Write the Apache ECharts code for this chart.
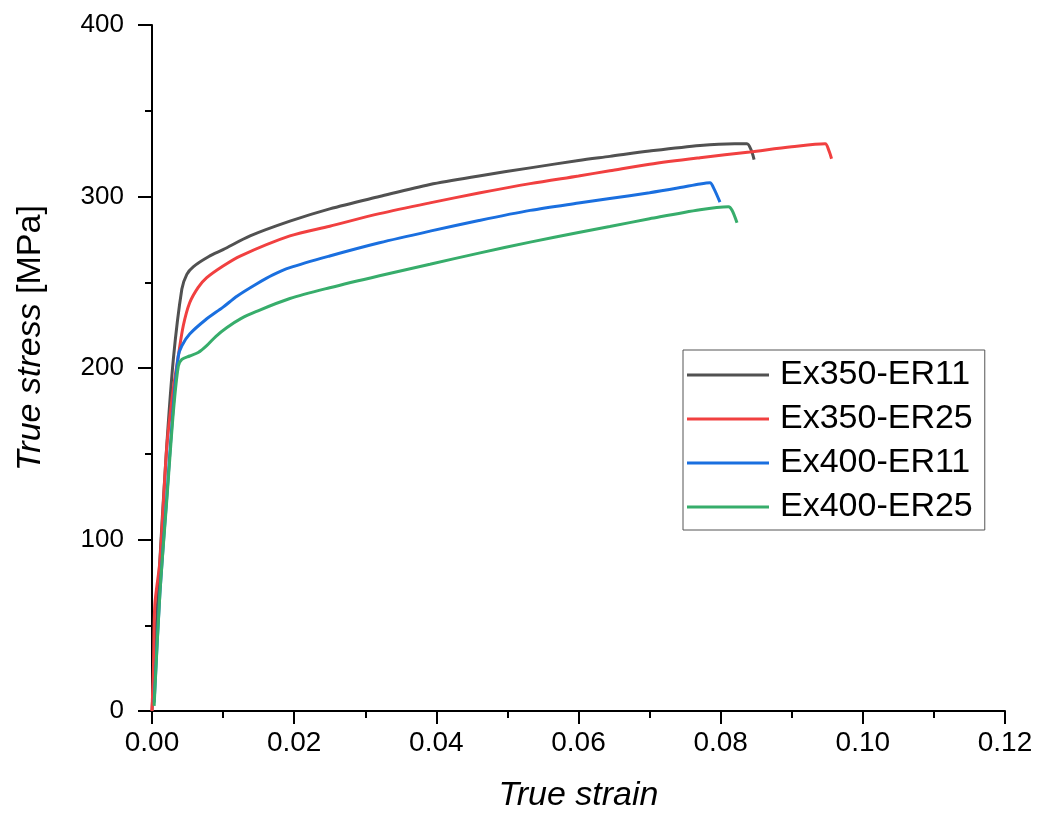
<!DOCTYPE html>
<html>
<head>
<meta charset="utf-8">
<script src="https://cdn.jsdelivr.net/npm/echarts@6/dist/echarts.min.js"></script>
<style>
html,body{margin:0;padding:0;background:#fff;}
#chart{width:1040px;height:818px;}
</style>
</head>
<body>
<div id="chart"></div>
<script>
// Series names
const seriesNames = ['Ex350-ER11', 'Ex350-ER25', 'Ex400-ER11', 'Ex400-ER25'];

// Ex350-ER11
const strain350_11 = [0.0000, 0.0010, 0.0020, 0.0030, 0.0042, 0.0049, 0.0058, 0.0080, 0.0100, 0.0138, 0.0194, 0.0250, 0.0320, 0.0391, 0.0460, 0.0532, 0.0600, 0.0644, 0.0700, 0.0771, 0.0820, 0.0837, 0.0843, 0.0847];
const stress350_11 = [0, 80, 150, 205, 246, 254.6, 259, 265, 269, 277, 285.6, 292.8, 300, 307, 312, 316.7, 321, 323.4, 326.5, 329.8, 330.8, 330.8, 327, 321.5];

// Ex350-ER25
const strain350_25 = [0.0000, 0.0002, 0.0004, 0.0011, 0.0021, 0.0030, 0.0037, 0.0044, 0.0053, 0.0065, 0.0077, 0.0100, 0.0124, 0.0194, 0.0250, 0.0320, 0.0391, 0.0460, 0.0532, 0.0600, 0.0644, 0.0700, 0.0771, 0.0841, 0.0900, 0.0947, 0.0952, 0.0956];
const stress350_25 = [0, 25, 62, 87, 155, 188, 207, 224.6, 238, 247, 252.7, 259.5, 265.3, 277, 282.7, 290, 296.3, 302, 307.5, 312, 315, 318.8, 322.6, 326, 329, 330.8, 327, 322];

// Ex400-ER11
const strain400_11 = [0.0003, 0.0011, 0.0021, 0.0030, 0.0037, 0.0042, 0.0053, 0.0075, 0.0100, 0.0120, 0.0147, 0.0170, 0.0194, 0.0250, 0.0320, 0.0391, 0.0460, 0.0532, 0.0600, 0.0644, 0.0700, 0.0743, 0.0771, 0.0785, 0.0790, 0.0799];
const stress400_11 = [5, 68, 126, 178, 207, 213, 219.8, 228, 235.5, 242, 249, 254.3, 258.5, 265.3, 273, 279.8, 286, 291.9, 296.2, 298.8, 302.2, 305.2, 307.3, 308, 305, 296.7];

// Ex400-ER25
const strain400_25 = [0.0003, 0.0011, 0.0021, 0.0030, 0.0037, 0.0042, 0.0053, 0.0065, 0.0077, 0.0090, 0.0105, 0.0125, 0.0147, 0.0194, 0.0250, 0.0320, 0.0391, 0.0460, 0.0532, 0.0600, 0.0644, 0.0700, 0.0771, 0.0811, 0.0816, 0.0823];
const stress400_25 = [3, 67.6, 124, 174, 201, 205, 207, 209, 213, 218.5, 223.5, 228.8, 233, 240.5, 246.8, 253.8, 260.5, 267, 273.4, 279, 282.5, 287, 292.3, 294, 292, 284.7];

// Axis ticks
const xTicks = { min: 0, max: 0.12, interval: 0.02 };
const yTicks = { min: 0, max: 400, interval: 100 };

const colors = ['#515151', '#F14040', '#1A6FDF', '#37AD6B'];

function zip(xs, ys) { return xs.map((x, i) => [x, ys[i]]); }
const allData = [
  zip(strain350_11, stress350_11),
  zip(strain350_25, stress350_25),
  zip(strain400_11, stress400_11),
  zip(strain400_25, stress400_25)
];

const font = '"Liberation Sans", Arial, sans-serif';
const chart = echarts.init(document.getElementById('chart'), null, { renderer: 'canvas' });

chart.setOption({
  animation: false,
  backgroundColor: '#ffffff',
  color: colors,
  grid: { left: 152, right: 35, top: 25, bottom: 105, containLabel: false },
  legend: {
    orient: 'vertical',
    left: 683,
    top: 350,
    icon: 'rect',
    itemWidth: 82,
    itemHeight: 3,
    itemGap: 10,
    padding: [8, 12, 6, 4],
    borderColor: '#555555',
    borderWidth: 1,
    backgroundColor: '#ffffff',
    textStyle: { fontFamily: font, fontSize: 34, color: '#000', lineHeight: 34, padding: [0, 0, 0, 6] },
    data: seriesNames
  },
  xAxis: {
    type: 'value',
    min: xTicks.min, max: xTicks.max, interval: xTicks.interval,
    name: 'True strain',
    nameLocation: 'middle',
    nameGap: 68,
    nameTextStyle: { fontFamily: font, fontSize: 34, fontStyle: 'italic', color: '#000' },
    axisLine: { show: true, onZero: false, lineStyle: { color: '#000', width: 2 } },
    axisTick: { show: true, inside: false, length: 13, lineStyle: { color: '#000', width: 2 } },
    minorTick: { show: true, splitNumber: 2, length: 7, lineStyle: { color: '#000', width: 2 } },
    axisLabel: { fontFamily: font, fontSize: 28, color: '#000', margin: 18, showMinLabel: true, showMaxLabel: true,
      formatter: v => v.toFixed(2) },
    splitLine: { show: false }
  },
  yAxis: {
    type: 'value',
    min: yTicks.min, max: yTicks.max, interval: yTicks.interval,
    name: '{i|True stress} {n|[MPa]}',
    nameLocation: 'middle',
    nameGap: 104,
    nameRotate: 90,
    nameTextStyle: {
      fontFamily: font, fontSize: 34, color: '#000',
      padding: [0, 0, 0, 60],
      rich: {
        i: { fontFamily: font, fontSize: 34, fontStyle: 'italic', color: '#000' },
        n: { fontFamily: font, fontSize: 34, color: '#000' }
      }
    },
    axisLine: { show: true, onZero: false, lineStyle: { color: '#000', width: 2 } },
    axisTick: { show: true, inside: false, length: 14, lineStyle: { color: '#000', width: 2 } },
    minorTick: { show: true, splitNumber: 2, length: 7, lineStyle: { color: '#000', width: 2 } },
    axisLabel: { fontFamily: font, fontSize: 26, color: '#000', margin: 28, showMinLabel: true, showMaxLabel: true },
    splitLine: { show: false }
  },
  series: seriesNames.map((name, i) => ({
    name: name,
    type: 'line',
    data: allData[i],
    showSymbol: false,
    symbol: 'none',
    smooth: 0.3,
    lineStyle: { width: 3, color: colors[i] },
    itemStyle: { color: colors[i] },
    emphasis: { disabled: true }
  }))
});
</script>
</body>
</html>
